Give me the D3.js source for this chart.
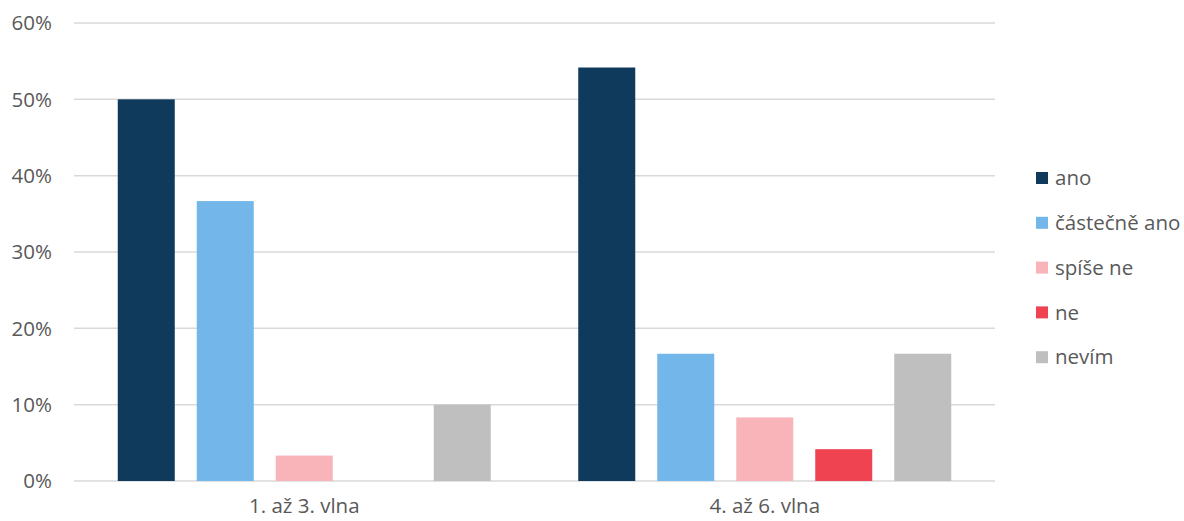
<!DOCTYPE html>
<html><head><meta charset="utf-8">
<script src="https://cdn.jsdelivr.net/npm/d3@7"></script>
<style>body{margin:0;background:#fff}svg text{font-family:"Open Sans",sans-serif;fill:#595959}</style>
</head><body><svg id="c" width="1184" height="521"></svg>
<script>
const categories = ["1. až 3. vlna", "4. až 6. vlna"];
const seriesNames = ["ano", "částečně ano", "spíše ne", "ne", "nevím"];
const seriesColors = ["#0f3a5c", "#73b7ea", "#f8b4b9", "#ef4352", "#bfbfbf"];
const ano = [0.50, 0.5417];
const castecneAno = [0.3667, 0.1667];
const spiseNe = [0.0333, 0.0833];
const ne = [0.0, 0.0417];
const nevim = [0.10, 0.1667];
const yTicks = [0, 0.1, 0.2, 0.3, 0.4, 0.5, 0.6];

(function () {
const series = [ano, castecneAno, spiseNe, ne, nevim];
const svg = d3.select("#c");
const mLeft = 74, mRight = 995, mTop = 23, mBottom = 481;
const y = d3.scaleLinear().domain([0, 0.6]).range([mBottom, mTop]);
const x0 = d3.scaleBand().domain(categories).range([mLeft, mRight]).paddingInner(0).paddingOuter(0);
const x1 = d3.scaleBand().domain(seriesNames).range([43.75, x0.bandwidth() - 43.75]).paddingInner(22/79).paddingOuter(0);

svg.append("g").selectAll("line").data(yTicks).join("line")
  .attr("x1", mLeft).attr("x2", mRight)
  .attr("y1", d => y(d)).attr("y2", d => y(d))
  .attr("stroke", "#d9d9d9").attr("stroke-width", 1.5);

svg.append("g").selectAll("text").data(yTicks).join("text")
  .attr("x", 52).attr("y", d => y(d)).attr("dy", "0.35em")
  .attr("text-anchor", "end").attr("font-size", 20.5)
  .text(d => d3.format(".0%")(d));

const g = svg.append("g");
categories.forEach((cat, ci) => {
  seriesNames.forEach((s, si) => {
    const v = series[si][ci];
    if (v <= 0) return;
    g.append("rect")
      .attr("x", x0(cat) + x1(s))
      .attr("width", x1.bandwidth())
      .attr("y", y(v))
      .attr("height", y(0) - y(v))
      .attr("fill", seriesColors[si]);
  });
});

svg.append("g").selectAll("text").data(categories).join("text")
  .attr("x", d => x0(d) + x0.bandwidth() / 2).attr("y", 513)
  .attr("text-anchor", "middle").attr("font-size", 20.5)
  .text(d => d);

const lg = svg.append("g");
seriesNames.forEach((s, i) => {
  const cy = 178 + i * 44.8;
  lg.append("rect").attr("x", 1036).attr("y", cy - 6).attr("width", 12).attr("height", 12).attr("fill", seriesColors[i]);
  lg.append("text").attr("x", 1055).attr("y", cy).attr("dy", "0.35em").attr("font-size", 20.5).text(s);
});
})();
</script></body></html>
